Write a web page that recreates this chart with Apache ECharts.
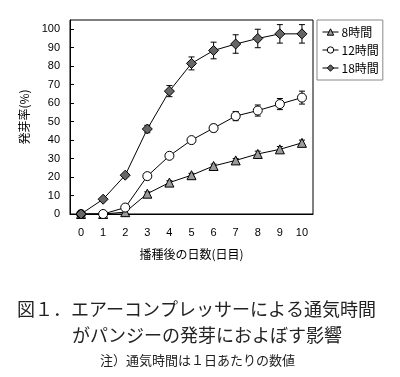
<!DOCTYPE html>
<html>
<head>
<meta charset="utf-8">
<script src="https://cdn.jsdelivr.net/npm/echarts@6/dist/echarts.min.js"></script>
<style>
  html, body { margin: 0; padding: 0; background: #fff; }
  #chart { width: 400px; height: 377px; }
</style>
</head>
<body>
<div id="chart"></div>
<script>
var days = ["0", "1", "2", "3", "4", "5", "6", "7", "8", "9", "10"];
var h8 = [0, 0, 1, 11, 17, 21, 26, 29, 32.5, 35, 38.5];
var h12 = [0, 0, 3.5, 20.5, 31.5, 40, 46.5, 53, 56, 59.5, 63];
var h18 = [0, 8, 21, 46, 66.5, 81.5, 88.5, 92, 95, 97.5, 97.5];
var err8 = [0, 0, 0, 1, 1, 1, 1, 1, 1.5, 1.5, 1.5];
var err12 = [0, 0, 0, 1, 1, 1.5, 2, 2.5, 3, 3, 3.5];
var err18 = [0, 0, 0, 2, 3, 3.5, 4.5, 5, 5, 5, 5];
var yTicks = [0, 10, 20, 30, 40, 50, 60, 70, 80, 90, 100];

var fontMain = "Liberation Sans, Noto Sans CJK JP, sans-serif";
var fontJP = "Noto Sans CJK JP, sans-serif";

function errData(vals, errs) {
  return vals.map(function (v, i) {
    return [i, v - errs[i], v + errs[i]];
  });
}

function renderErr(params, api) {
  var x = api.value(0);
  var lo = api.coord([x, api.value(1)]);
  var hi = api.coord([x, api.value(2)]);
  if (api.value(2) - api.value(1) <= 0) return;
  var cap = 3;
  var st = { stroke: "#000", lineWidth: 1 };
  return {
    type: "group",
    children: [
      { type: "line", shape: { x1: lo[0], y1: lo[1], x2: hi[0], y2: hi[1] }, style: st },
      { type: "line", shape: { x1: lo[0] - cap, y1: lo[1], x2: lo[0] + cap, y2: lo[1] }, style: st },
      { type: "line", shape: { x1: hi[0] - cap, y1: hi[1], x2: hi[0] + cap, y2: hi[1] }, style: st }
    ]
  };
}

function lineSeries(name, data, symbol, size, fill) {
  return {
    name: name,
    type: "line",
    data: data,
    symbol: symbol,
    symbolSize: size,
    showAllSymbol: true,
    z: 3,
    lineStyle: { color: "#000", width: 1 },
    itemStyle: { color: fill, borderColor: "#000", borderWidth: 1 },
    emphasis: { disabled: true }
  };
}

function errSeries(name, vals, errs) {
  return {
    name: name,
    type: "custom",
    renderItem: renderErr,
    data: errData(vals, errs),
    z: 2,
    silent: true
  };
}

var chart = echarts.init(document.getElementById("chart"));
chart.setOption({
  animation: false,
  backgroundColor: "#fff",
  grid: {
    left: 70, right: 87, top: 20, bottom: 163,
    show: true, borderColor: "#000", borderWidth: 1
  },
  legend: {
    orient: "vertical",
    left: 317, top: 20,
    data: ["8時間", "12時間", "18時間"],
    itemWidth: 16, itemHeight: 8, itemGap: 6,
    padding: [6, 4, 6, 5],
    borderColor: "#888", borderWidth: 1,
    lineStyle: { width: 1 },
    itemStyle: { borderWidth: 1 },
    textStyle: { fontFamily: fontJP, fontSize: 12, color: "#000", padding: [0, 0, 0, -2] },
    selectedMode: false
  },
  xAxis: {
    type: "category",
    data: days,
    boundaryGap: true,
    name: "播種後の日数(日目)",
    nameLocation: "middle",
    nameGap: 34,
    nameTextStyle: { fontFamily: fontJP, fontSize: 12, color: "#000" },
    axisLine: { lineStyle: { color: "#000", width: 1 } },
    axisTick: { inside: true, length: 4, lineStyle: { color: "#000" } },
    axisLabel: { fontFamily: fontMain, fontSize: 11, color: "#000", margin: 13 }
  },
  yAxis: {
    type: "value",
    min: 0, max: 105, interval: 10,
    name: "発芽率(%)",
    nameLocation: "middle",
    nameGap: 26,
    nameTextStyle: { fontFamily: fontJP, fontSize: 12, color: "#000" },
    axisLine: { show: true, lineStyle: { color: "#000", width: 1 } },
    axisTick: { show: true, inside: true, length: 4, lineStyle: { color: "#000" } },
    splitLine: { show: false },
    axisLabel: {
      fontFamily: fontMain, fontSize: 11, color: "#000", margin: 10,
      showMaxLabel: false,
      formatter: function (v) { return yTicks.indexOf(v) >= 0 ? String(v) : ""; }
    }
  },
  series: [
    errSeries("e8", h8, err8),
    errSeries("e12", h12, err12),
    errSeries("e18", h18, err18),
    lineSeries("8時間", h8, "triangle", 9, "#9a9a9a"),
    lineSeries("12時間", h12, "circle", 9, "#fff"),
    lineSeries("18時間", h18, "diamond", 10, "#666")
  ],
  graphic: [
    {
      type: "text", left: 17, top: 300,
      style: { text: "図１．エアーコンプレッサーによる通気時間", fontFamily: fontJP, fontSize: 18, fill: "#222" }
    },
    {
      type: "text", left: 72, top: 326,
      style: { text: "がパンジーの発芽におよぼす影響", fontFamily: fontJP, fontSize: 18, fill: "#222" }
    },
    {
      type: "text", left: 100, top: 354,
      style: { text: "注）通気時間は１日あたりの数値", fontFamily: fontJP, fontSize: 13, fill: "#222" }
    }
  ]
});
</script>
</body>
</html>
